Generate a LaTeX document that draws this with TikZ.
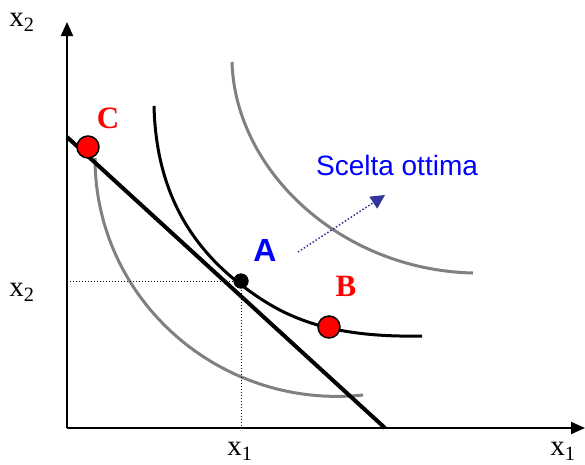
\documentclass[tikz,border=0pt]{standalone}
\usepackage{fontspec}
\setmainfont{Liberation Serif}
\newfontfamily\arialfont{Liberation Sans}
\usetikzlibrary{arrows.meta}
\definecolor{grayc}{RGB}{128,128,128}
\definecolor{navyc}{RGB}{51,51,153}
\begin{document}
\begin{tikzpicture}[x=1pt,y=-1pt,
  axis/.style={line width=2pt,-{Triangle[length=14pt,width=12pt]}},
  gcurve/.style={grayc,line width=3pt},
  bcurve/.style={black,line width=3pt},
  redpt/.style={circle,fill=red,draw=black,line width=1.5pt,minimum size=22pt,inner sep=0pt},
  axlabel/.style={font=\fontsize{29}{30}\selectfont,inner sep=0pt},
  dotline/.style={black,line width=1pt,dotted}
]
\useasboundingbox (0,0) rectangle (585,464);
% axes
\coordinate (O) at (67,428);
\coordinate (Ytip) at (67,22);
\coordinate (Xtip) at (585,428);
\draw[axis] (O) -- (Ytip);
\draw[axis] (O) -- (Xtip);
% labels
\node[axlabel] (ly1) at (22,22) {x\textsubscript{2}};
\node[axlabel] (ly2) at (22,292) {x\textsubscript{2}};
\node[axlabel] (lx1) at (240,451) {x\textsubscript{1}};
\node[axlabel] (lx2) at (563,451) {x\textsubscript{1}};
% outer gray curve
\coordinate (g1) at (232,62);
\coordinate (g2) at (473,273);
\draw[gcurve] (g1) .. controls (235,170) and (340,270) .. (g2);
% inner gray curve
\coordinate (h1) at (95,158);
\coordinate (h2) at (363,395);
\draw[gcurve] (h1) .. controls (95,300) and (220,410) .. (h2);
% budget line
\coordinate (L1) at (67,137);
\coordinate (L2) at (385,428);
\draw[line width=4pt] (L1) -- (L2);
% black indifference curve
\coordinate (k1) at (154,106);
\coordinate (k2) at (240,284);
\coordinate (k3) at (422,336);
\draw[bcurve] (k1) .. controls (156,190) and (190,245) .. (k2)
  .. controls (278,313) and (320,338) .. (k3);
% dotted lines
\node[circle,fill=black,minimum size=15pt,inner sep=0pt] (A) at (241,281) {};
\coordinate (Ay) at (67,281);
\coordinate (Ax) at (241,428);
\draw[dotline] (Ay) -- (A.center);
\draw[dotline] (A.center) -- (Ax);
\node[circle,fill=black,minimum size=15pt,inner sep=0pt] at (241,281) {};
% points
\node[redpt] (C) at (88,147) {};
\node[redpt] (B) at (329,327) {};
\node[text=red,font=\bfseries\fontsize{31}{32}\selectfont,inner sep=0pt] (lC) at (108,118) {C};
\node[text=red,font=\bfseries\fontsize{31}{32}\selectfont,inner sep=0pt] (lB) at (346,286) {B};
\node[text=blue,font=\arialfont\bfseries\fontsize{32}{33}\selectfont,inner sep=0pt] (lA) at (265,250) {A};
% scelta ottima
\node[text=blue,font=\arialfont\fontsize{28}{30}\selectfont,inner sep=0pt] (S) at (397,165) {Scelta ottima};
\coordinate (s1) at (298,252);
\coordinate (s2) at (385,195);
\draw[navyc,line width=1.5pt,dotted,-{Triangle[length=14pt,width=14pt]}] (s1) -- (s2);
\end{tikzpicture}
\end{document}
